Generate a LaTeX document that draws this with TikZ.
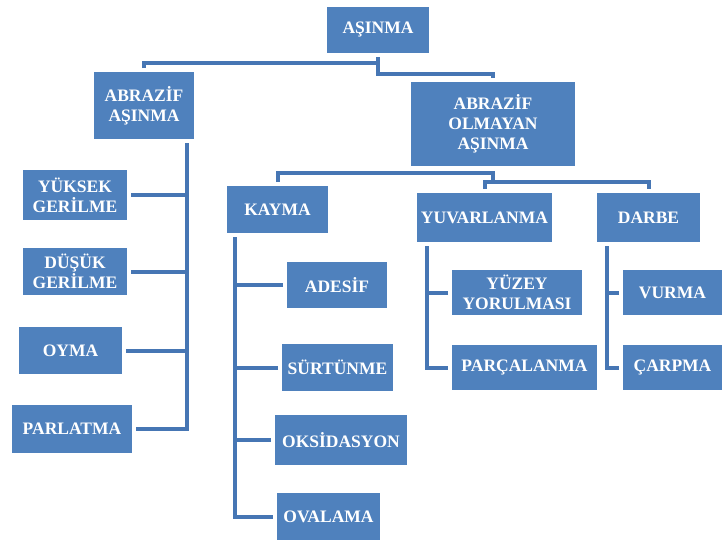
\documentclass[tikz,border=0pt]{standalone}
\usepackage{fontspec}
\setmainfont{Liberation Serif}
\usepackage{tikz}
\usetikzlibrary{positioning,calc}

\definecolor{boxblue}{HTML}{4F81BD}
\definecolor{lineblue}{HTML}{4676B4}

\begin{document}
\begin{tikzpicture}[
    x=1pt, y=-1pt,
    box/.style={rectangle, fill=boxblue, text=white, align=center, inner sep=0pt,
        outer sep=4pt, font=\fontsize{17.5}{20}\selectfont\bfseries},
    link/.style={draw=lineblue, line width=4pt, line join=miter},
]
    \useasboundingbox (0,0) rectangle (722,542);

    % top levels
    \node[box, minimum width=102pt, minimum height=46pt] (asinma) at (378,30) {AŞINMA};
    \node[box, minimum width=100pt, minimum height=67pt] (abr) at (144,105.5) {ABRAZİF\\AŞINMA};
    \node[box, minimum width=164pt, minimum height=84pt] (abrol) at (493,124) {ABRAZİF\\OLMAYAN\\AŞINMA};

    % abrazif branch
    \node[box, minimum width=104pt, minimum height=50pt] (yuk) at (75,195) {YÜKSEK\\GERİLME};
    \node[box, minimum width=104pt, minimum height=47pt] (dus) at (75,271.5) {DÜŞÜK\\GERİLME};
    \node[box, minimum width=103pt, minimum height=47pt] (oyma) at (70.5,350.5) {OYMA};
    \node[box, minimum width=120pt, minimum height=48pt] (parl) at (72,429) {PARLATMA};

    % abrazif olmayan branch
    \node[box, minimum width=101pt, minimum height=47pt] (kayma) at (277.5,209.5) {KAYMA};
    \node[box, minimum width=135pt, minimum height=49pt] (yuv) at (484.5,217.5) {YUVARLANMA};
    \node[box, minimum width=103pt, minimum height=49pt] (darbe) at (648.5,217.5) {DARBE};

    \node[box, minimum width=100pt, minimum height=46pt] (adesif) at (337,285) {ADESİF};
    \node[box, minimum width=111pt, minimum height=47pt] (surt) at (337.5,367.5) {SÜRTÜNME};
    \node[box, minimum width=132pt, minimum height=50pt] (oksi) at (341,440) {OKSİDASYON};
    \node[box, minimum width=103pt, minimum height=47pt] (oval) at (328.5,516.5) {OVALAMA};

    \node[box, minimum width=130pt, minimum height=45pt] (yuzey) at (517,292.5) {YÜZEY\\YORULMASI};
    \node[box, minimum width=145pt, minimum height=45pt] (parc) at (524.5,367.5) {PARÇALANMA};
    \node[box, minimum width=99pt, minimum height=45pt] (vurma) at (672.5,292.5) {VURMA};
    \node[box, minimum width=99pt, minimum height=45pt] (carpma) at (672.5,367.5) {ÇARPMA};

    % joints
    \coordinate (j1) at ([yshift=-6pt]asinma.south);
    \coordinate (j2) at ([yshift=-17pt]asinma.south);
    \coordinate (k1) at ([yshift=-3pt]abrol.south);
    \coordinate (k2) at ([yshift=-12pt]abrol.south);
    \coordinate (abrspine) at ([xshift=-11pt]abr.south east);
    \coordinate (kspine) at ([xshift=12pt]kayma.south west);
    \coordinate (yspine) at ([xshift=14pt]yuv.south west);
    \coordinate (dspine) at ([xshift=14pt]darbe.south west);

    % connectors
    \draw[link] (abr.north) |- (j1) -- (asinma.south);
    \draw[link] (j1) -- (j2) -| (abrol.north);
    \draw[link] (kayma.north) |- (k1) -- (k2);
    \draw[link] (yuv.north) |- (k2) -| (darbe.north);

    \draw[link] (abrspine) |- (parl.east);
    \foreach \n in {yuk,dus,oyma}
        \draw[link] (\n.east) -- (\n.east -| abrspine);

    \draw[link] (kspine) |- (oval.west);
    \foreach \n in {adesif,surt,oksi}
        \draw[link] (\n.west) -- (\n.west -| kspine);

    \draw[link] (yspine) |- (parc.west);
    \draw[link] (yuzey.west) -- (yuzey.west -| yspine);
    \draw[link] (dspine) |- (carpma.west);
    \draw[link] (vurma.west) -- (vurma.west -| dspine);
\end{tikzpicture}
\end{document}
